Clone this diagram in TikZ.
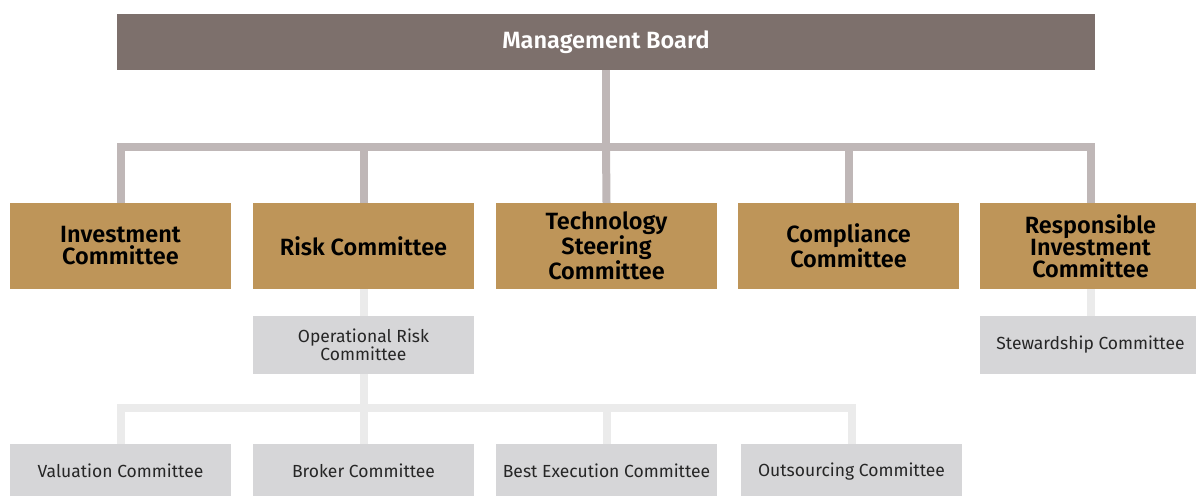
\documentclass[tikz,border=0pt]{standalone}
\usepackage{fontspec}
\setmainfont{Fira Sans}[BoldFont={Fira Sans SemiBold}]
\usetikzlibrary{backgrounds}
\definecolor{mbcol}{HTML}{7D706C}
\definecolor{gold}{HTML}{BE9559}
\definecolor{lgray}{HTML}{D6D6D8}
\definecolor{topline}{HTML}{BFB7B7}
\definecolor{lowline}{HTML}{EBEBEB}
\tikzset{
  mbbox/.style={fill=mbcol, text=white, minimum width=978pt, minimum height=56pt, inner sep=0pt,
    font=\fontsize{23.5}{22}\selectfont\bfseries},
  goldbox/.style={fill=gold, text=black, minimum width=221pt, minimum height=86pt, inner sep=0pt,
    align=center, font=\fontsize{23.5}{22}\selectfont\bfseries},
  graybox/.style={fill=lgray, text=black!85, minimum width=221pt, inner sep=0pt,
    align=center, font=\fontsize{17.5}{18.5}\selectfont},
  topconn/.style={draw=topline, line width=8pt},
  lowconn/.style={draw=lowline, line width=8pt},
}
\begin{document}
\begin{tikzpicture}[x=1pt,y=-1pt]
\useasboundingbox (0,0) rectangle (1196,495);
% nodes
\node[mbbox] (mb) at (606,42) {Management Board};
\node[goldbox] (inv) at (120.5,246) {Investment\\Committee};
\node[goldbox] (risk) at (363.5,246) {Risk Committee};
\node[goldbox] (tech) at (606.5,246) {Technology\\Steering\\Committee};
\node[goldbox] (comp) at (848.5,246) {Compliance\\Committee};
\node[goldbox] (resp) at (1090.5,246) {Responsible\\Investment\\Committee};
\node[graybox, minimum height=58pt] (oprisk) at (363.5,345) {Operational Risk\\Committee};
\node[graybox, minimum height=58pt] (stew) at (1090.5,345) {Stewardship Committee};
\node[graybox, minimum height=54pt, anchor=north] (val) at (120.5,444) {Valuation Committee};
\node[graybox, minimum height=54pt, anchor=north] (brok) at (363.5,444) {Broker Committee};
\node[graybox, minimum height=54pt, anchor=north] (best) at (606.5,444) {Best Execution Committee};
\node[graybox, minimum height=54pt, anchor=north] (outs) at (851.5,444) {Outsourcing Committee};
\coordinate (bar) at (606,146.5);
\coordinate (lowbar) at (363.5,407.5);
% connectors
\begin{scope}[on background layer]
  \draw[topconn] (mb.south) -- (bar);
  \draw[topconn] (inv.north) |- (bar);
  \draw[topconn] (risk.north) |- (bar);
  \draw[topconn] (tech.north) -- (bar);
  \draw[topconn] (comp.north) |- (bar);
  \draw[topconn] (resp.north) |- (bar);
  \draw[lowconn] (risk.south) -- (oprisk.north);
  \draw[lowconn] (resp.south) -- (stew.north);
  \draw[lowconn] (oprisk.south) -- (lowbar);
  \draw[lowconn] (val.north) |- (lowbar);
  \draw[lowconn] (brok.north) -- (lowbar);
  \draw[lowconn] (best.north) |- (lowbar);
  \draw[lowconn] (outs.north) |- (lowbar);
\end{scope}
\end{tikzpicture}
\end{document}
